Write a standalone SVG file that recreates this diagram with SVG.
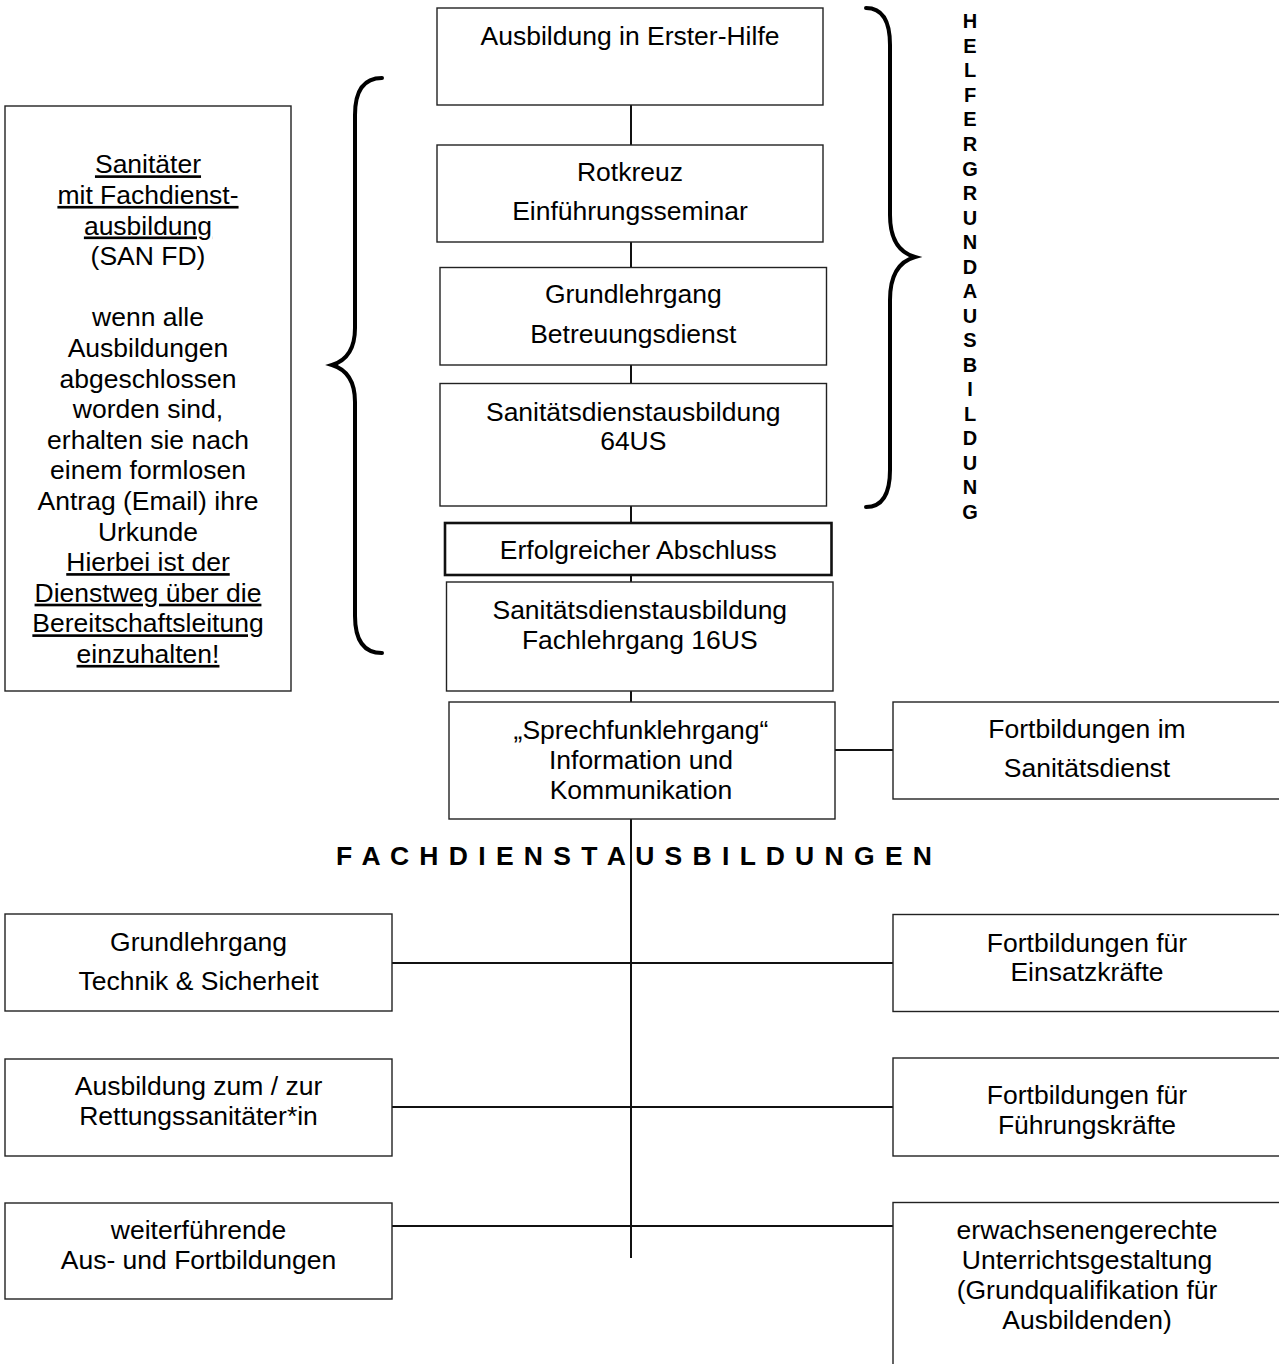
<svg xmlns="http://www.w3.org/2000/svg" width="1279" height="1364" viewBox="0 0 1279 1364">
<style>
  .box { fill: #fff; stroke: #222; stroke-width: 1.4; }
  .thick { fill: #fff; stroke: #111; stroke-width: 2.6; }
  .t { font-family: "Liberation Sans", Arial, sans-serif; font-size: 26.5px; fill: #000; text-anchor: middle; }
  .u { text-decoration: underline; }
  .v { font-family: "Liberation Sans", Arial, sans-serif; font-size: 20px; font-weight: bold; fill: #000; text-anchor: middle; }
  .h { font-family: "Liberation Sans", Arial, sans-serif; font-size: 26.5px; font-weight: bold; fill: #000; }
  .ln { stroke: #111; stroke-width: 2; fill: none; }
  .brace { stroke: #000; stroke-width: 4; fill: none; stroke-linecap: round; }
</style>
<rect width="1279" height="1364" fill="#fff"/>

<g id="connectors">
  <line class="ln" x1="631" y1="105" x2="631" y2="145"/>
  <line class="ln" x1="631" y1="242" x2="631" y2="267"/>
  <line class="ln" x1="631" y1="365" x2="631" y2="383"/>
  <line class="ln" x1="631" y1="506" x2="631" y2="523"/>
  <line class="ln" x1="631" y1="575" x2="631" y2="582"/>
  <line class="ln" x1="631" y1="691" x2="631" y2="702"/>
  <line class="ln" x1="631" y1="819" x2="631" y2="1258"/>
  <line class="ln" x1="835" y1="750" x2="896" y2="750"/>
  <line class="ln" x1="391" y1="963" x2="896" y2="963"/>
  <line class="ln" x1="391" y1="1107" x2="896" y2="1107"/>
  <line class="ln" x1="391" y1="1226" x2="896" y2="1226"/>
</g>

<g id="brace-left">
  <path class="brace" d="M382,78 Q355,78 355,115 L355,328 Q355,358 332,365 Q355,372 355,402 L355,616 Q355,653 382,653"/>
</g>
<g id="brace-right">
  <path class="brace" d="M866,8 Q890,8 890,45 L890,215 Q890,250 915,257 Q890,264 890,300 L890,470 Q890,507 866,507"/>
</g>

<g id="helfergrundausbildung">
  <text class="v" x="970" y="28.3">H</text>
  <text class="v" x="970" y="52.8">E</text>
  <text class="v" x="970" y="77.4">L</text>
  <text class="v" x="970" y="101.9">F</text>
  <text class="v" x="970" y="126.4">E</text>
  <text class="v" x="970" y="151">R</text>
  <text class="v" x="970" y="175.5">G</text>
  <text class="v" x="970" y="200">R</text>
  <text class="v" x="970" y="224.5">U</text>
  <text class="v" x="970" y="249.1">N</text>
  <text class="v" x="970" y="273.6">D</text>
  <text class="v" x="970" y="298.1">A</text>
  <text class="v" x="970" y="322.7">U</text>
  <text class="v" x="970" y="347.2">S</text>
  <text class="v" x="970" y="371.7">B</text>
  <text class="v" x="970" y="396.3">I</text>
  <text class="v" x="970" y="420.8">L</text>
  <text class="v" x="970" y="445.3">D</text>
  <text class="v" x="970" y="469.8">U</text>
  <text class="v" x="970" y="494.4">N</text>
  <text class="v" x="970" y="518.9">G</text>
</g>

<g id="n-erste-hilfe">
  <rect class="box" x="437" y="8" width="386" height="97"/>
  <text class="t" x="630" y="45">Ausbildung in Erster-Hilfe</text>
</g>
<g id="n-rotkreuz">
  <rect class="box" x="437" y="145" width="386" height="97"/>
  <text class="t" x="630" y="181">Rotkreuz</text>
  <text class="t" x="630" y="220">Einführungsseminar</text>
</g>
<g id="n-betreuungsdienst">
  <rect class="box" x="440" y="267.5" width="386.5" height="97.5"/>
  <text class="t" x="633.3" y="303">Grundlehrgang</text>
  <text class="t" x="633.3" y="343">Betreuungsdienst</text>
</g>
<g id="n-san64">
  <rect class="box" x="440" y="383.5" width="386.5" height="122.5"/>
  <text class="t" x="633.3" y="421">Sanitätsdienstausbildung</text>
  <text class="t" x="633.3" y="449.5">64US</text>
</g>
<g id="n-abschluss">
  <rect class="thick" x="445" y="523" width="386.5" height="52"/>
  <text class="t" x="638.3" y="559">Erfolgreicher Abschluss</text>
</g>
<g id="n-san16">
  <rect class="box" x="446.5" y="582" width="386.5" height="109"/>
  <text class="t" x="639.8" y="618.5">Sanitätsdienstausbildung</text>
  <text class="t" x="639.8" y="648.5">Fachlehrgang 16US</text>
</g>
<g id="n-sprechfunk">
  <rect class="box" x="449" y="702" width="386" height="117"/>
  <text class="t" x="641" y="739">„Sprechfunklehrgang“</text>
  <text class="t" x="641" y="769">Information und</text>
  <text class="t" x="641" y="799">Kommunikation</text>
</g>
<g id="n-fort-san">
  <rect class="box" x="893" y="702" width="392" height="97"/>
  <text class="t" x="1087" y="738">Fortbildungen im</text>
  <text class="t" x="1087" y="777">Sanitätsdienst</text>
</g>

<g id="n-sanfd">
  <rect class="box" x="5" y="106" width="286" height="585"/>
  <text class="t u" x="148" y="173.3">Sanitäter</text>
  <text class="t u" x="148" y="203.9">mit Fachdienst-</text>
  <text class="t u" x="148" y="234.5">ausbildung</text>
  <text class="t" x="148" y="265.1">(SAN FD)</text>
  <text class="t" x="148" y="326.3">wenn alle</text>
  <text class="t" x="148" y="356.9">Ausbildungen</text>
  <text class="t" x="148" y="387.5">abgeschlossen</text>
  <text class="t" x="148" y="418.1">worden sind,</text>
  <text class="t" x="148" y="448.7">erhalten sie nach</text>
  <text class="t" x="148" y="479.3">einem formlosen</text>
  <text class="t" x="148" y="509.9">Antrag (Email) ihre</text>
  <text class="t" x="148" y="540.5">Urkunde</text>
  <text class="t u" x="148" y="571.1">Hierbei ist der</text>
  <text class="t u" x="148" y="601.7">Dienstweg über die</text>
  <text class="t u" x="148" y="632.3">Bereitschaftsleitung</text>
  <text class="t u" x="148" y="662.9">einzuhalten!</text>
</g>

<g id="title-fachdienst">
  <text class="h" x="336" y="865" textLength="596" lengthAdjust="spacing">F A C H D I E N S T A U S B I L D U N G E N</text>
</g>

<g id="n-technik">
  <rect class="box" x="5" y="914" width="387" height="97"/>
  <text class="t" x="198.5" y="951">Grundlehrgang</text>
  <text class="t" x="198.5" y="990">Technik &amp; Sicherheit</text>
</g>
<g id="n-rettsan">
  <rect class="box" x="5" y="1059" width="387" height="97"/>
  <text class="t" x="198.5" y="1095">Ausbildung zum / zur</text>
  <text class="t" x="198.5" y="1125">Rettungssanitäter*in</text>
</g>
<g id="n-weiter">
  <rect class="box" x="5" y="1203" width="387" height="96"/>
  <text class="t" x="198.5" y="1239">weiterführende</text>
  <text class="t" x="198.5" y="1268.5">Aus- und Fortbildungen</text>
</g>

<g id="n-einsatz">
  <rect class="box" x="893" y="914.5" width="392" height="97"/>
  <text class="t" x="1087" y="951.5">Fortbildungen für</text>
  <text class="t" x="1087" y="981">Einsatzkräfte</text>
</g>
<g id="n-fuehrung">
  <rect class="box" x="893" y="1058" width="392" height="98"/>
  <text class="t" x="1087" y="1103.5">Fortbildungen für</text>
  <text class="t" x="1087" y="1133.5">Führungskräfte</text>
</g>
<g id="n-erwachsen">
  <rect class="box" x="893" y="1202.5" width="392" height="200"/>
  <text class="t" x="1087" y="1239">erwachsenengerechte</text>
  <text class="t" x="1087" y="1269">Unterrichtsgestaltung</text>
  <text class="t" x="1087" y="1299">(Grundqualifikation für</text>
  <text class="t" x="1087" y="1328.5">Ausbildenden)</text>
</g>
</svg>
